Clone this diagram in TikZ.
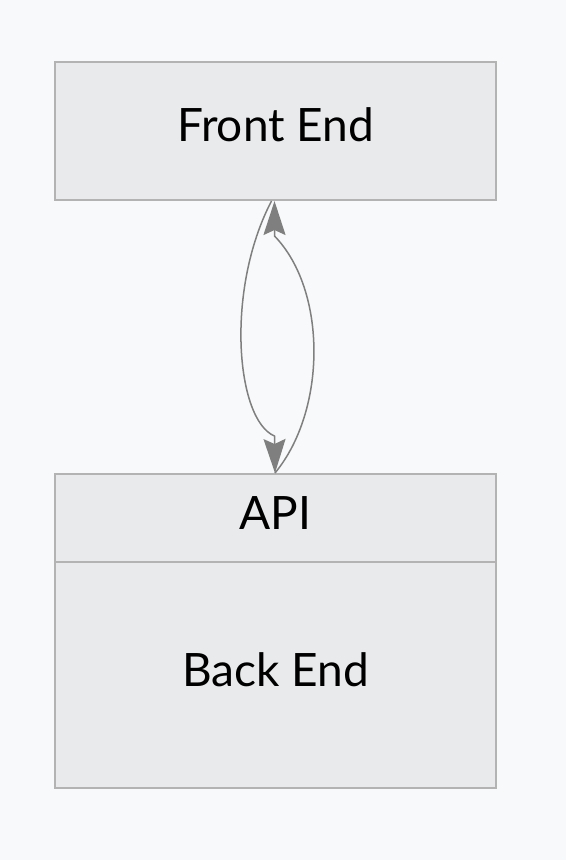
\documentclass[tikz,border=0pt]{standalone}
\usepackage{fontspec}
\setmainfont{Lato}
\usetikzlibrary{arrows.meta}
\definecolor{bg}{HTML}{F8F9FA}
\definecolor{boxfill}{HTML}{E9EAEC}
\definecolor{boxline}{HTML}{B3B3B3}
\definecolor{edge}{HTML}{7F7F7F}
\tikzset{
  box/.style={draw=boxline, fill=boxfill, line width=2pt, rectangle, inner sep=0pt, minimum width=441pt},
  lbl/.style={inner sep=0pt, font=\fontsize{46}{46}\selectfont, text=black},
  conn/.style={draw=edge, line width=1.5pt, -{Stealth[length=34pt, width=22pt, inset=5pt]}}
}
\begin{document}
\begin{tikzpicture}[x=1pt, y=-1pt]
  \fill[bg] (0,0) rectangle (566,860);
  \useasboundingbox (0,0) rectangle (566,860);
  \node[box, minimum height=138pt] (fe) at (275.5,131) {};
  \node[lbl] (fet) at (275.5,125) {Front End};
  \node[box, minimum height=88pt] (api) at (275.5,518) {};
  \node[box, minimum height=226pt] (be) at (275.5,675) {};
  \node[lbl] (apit) at (275.5,513.5) {API};
  \node[lbl] (bet) at (275.5,669.5) {Back End};
  \coordinate (lb) at (274.5,436);
  \coordinate (rt) at (274.5,236);
  \draw[conn] ([xshift=-4pt]fe.south) .. controls (225,290) and (236,420) .. (lb) -- ([xshift=-0.5pt]api.north);
  \draw[conn] ([xshift=-0.5pt]api.north) .. controls (327,410) and (327,290) .. (rt) -- ([xshift=-1pt]fe.south);
\end{tikzpicture}
\end{document}
